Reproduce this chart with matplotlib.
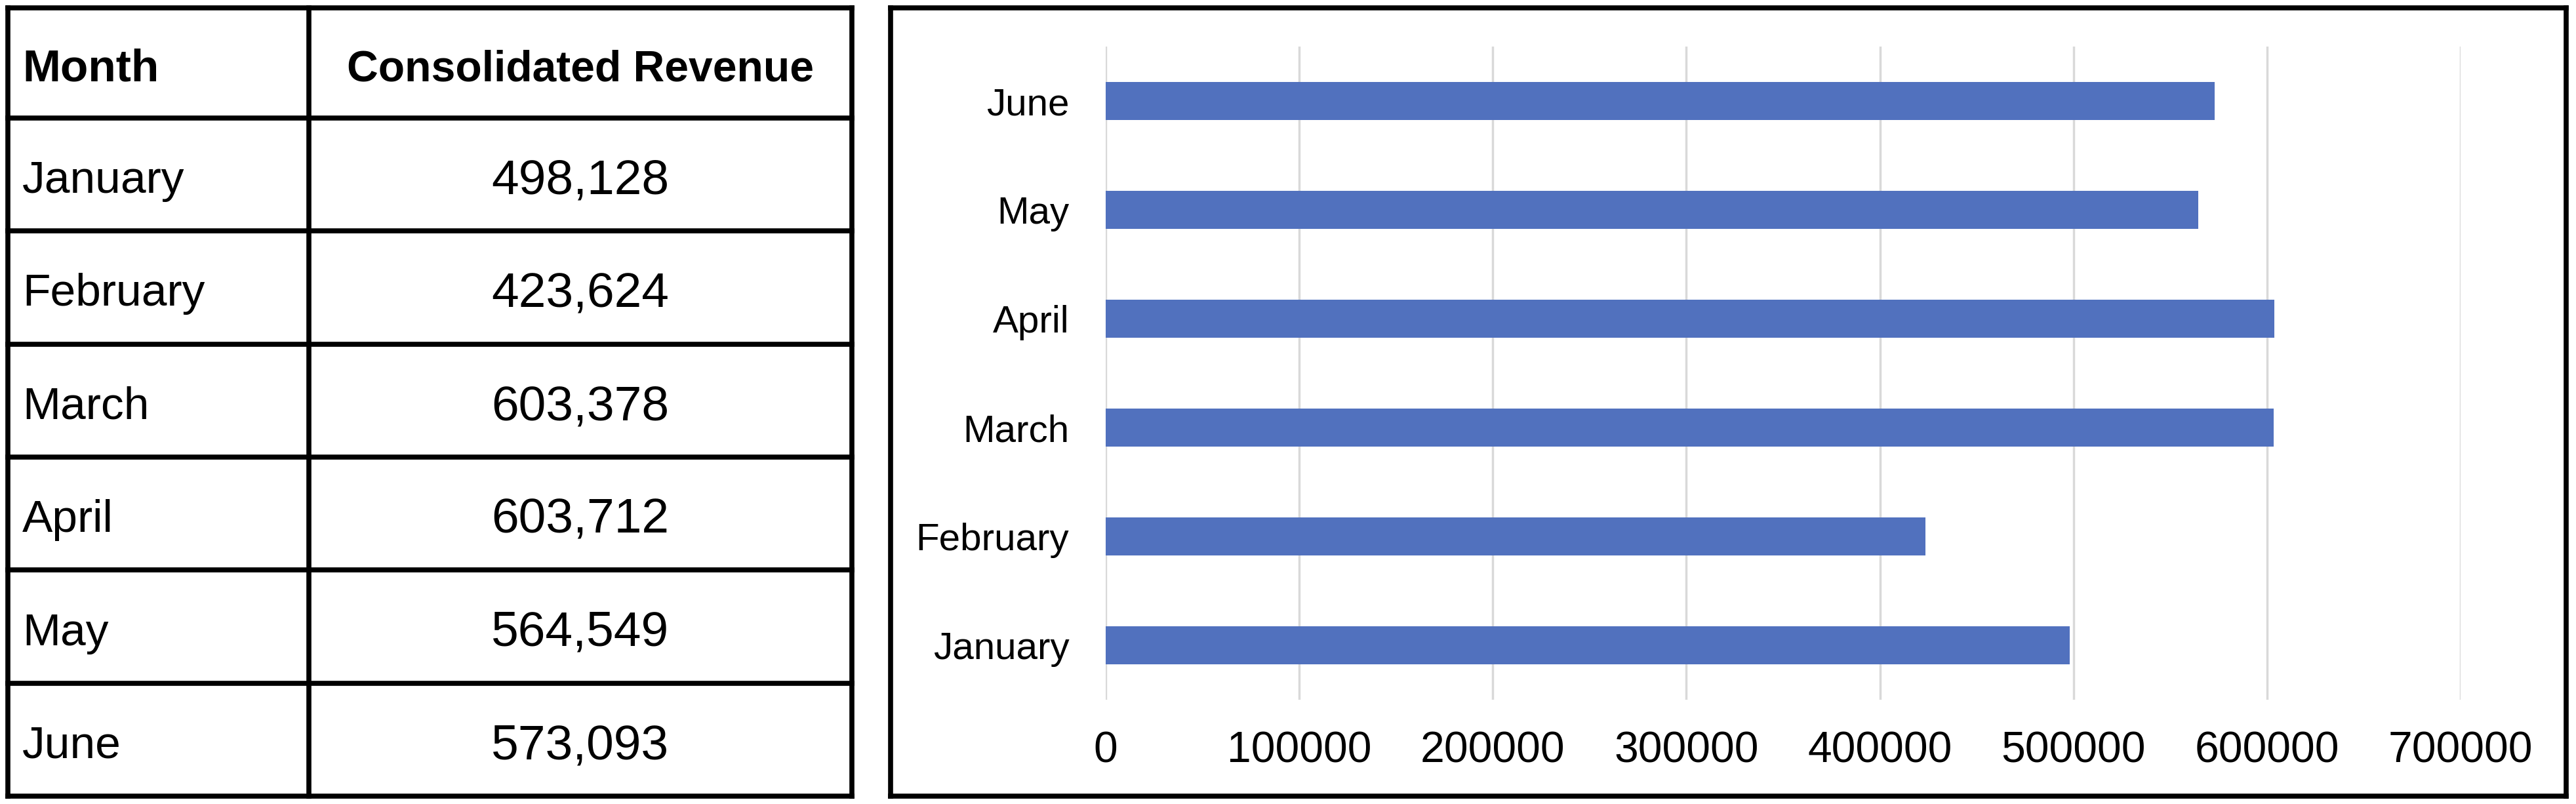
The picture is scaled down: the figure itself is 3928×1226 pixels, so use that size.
import matplotlib
matplotlib.use("Agg")
import matplotlib.pyplot as plt
from matplotlib.lines import Line2D

months = ["January", "February", "March", "April", "May", "June"]
revenue = [498128, 423624, 603378, 603712, 564549, 573093]
header = ["Month", "Consolidated Revenue"]
xticks = [0, 100000, 200000, 300000, 400000, 500000, 600000, 700000]

W, H = 3928, 1226
plt.rcParams['font.family'] = ['Liberation Sans', 'DejaVu Sans']
fig = plt.figure(figsize=(W / 100, H / 100), dpi=100)
fig.patch.set_facecolor("white")

# ---------- table (pixel coordinate overlay) ----------
tab = fig.add_axes([0, 0, 1, 1])
tab.set_xlim(0, W)
tab.set_ylim(H, 0)
tab.axis("off")

t_left, t_right, t_top, t_bot = 12, 1299, 12, 1214
col_div = 471
head_bot = 180
row_h = (t_bot - head_bot) / len(months)
lw = 5.5

def hline(y, x0, x1):
    tab.add_line(Line2D([x0, x1], [y, y], color="black", lw=lw, solid_capstyle="projecting"))

def vline(x, y0, y1):
    tab.add_line(Line2D([x, x], [y0, y1], color="black", lw=lw, solid_capstyle="projecting"))

hline(t_top, t_left, t_right)
hline(t_bot, t_left, t_right)
hline(head_bot, t_left, t_right)
for i in range(1, len(months)):
    hline(head_bot + i * row_h, t_left, t_right)
vline(t_left, t_top, t_bot)
vline(t_right, t_top, t_bot)
vline(col_div, t_top, t_bot)

tab.text(t_left + 22, (t_top + head_bot) / 2 + 10, header[0], fontsize=50, fontweight="bold",
         ha="left", va="center")
tab.text((col_div + t_right) / 2, (t_top + head_bot) / 2 + 10, header[1], fontsize=47.5,
         fontweight="bold", ha="center", va="center")
for i, (m, v) in enumerate(zip(months, revenue)):
    yc = head_bot + (i + 0.5) * row_h + 10
    tab.text(t_left + 22, yc, m, fontsize=50, ha="left", va="center")
    tab.text((col_div + t_right) / 2, yc, f"{v:,}", fontsize=54, ha="center", va="center")

# chart border
c_left, c_right = 1358, 3913
hline(t_top, c_left, c_right)
hline(t_bot, c_left, c_right)
vline(c_left, t_top, t_bot)
vline(c_right, t_top, t_bot)

# ---------- bar chart ----------
ax_l, ax_r, ax_t, ax_b = 1686, 3752, 71, 1067
ax = fig.add_axes([ax_l / W, 1 - ax_b / H, (ax_r - ax_l) / W, (ax_b - ax_t) / H])
ax.set_facecolor("none")
ypos = list(range(len(months)))
ax.barh(ypos, revenue, height=0.355, color="#5171BE", zorder=3)
ax.set_xlim(0, 700000)
ax.set_ylim(-0.5, len(months) - 0.5)
ax.set_xticks(xticks)
ax.set_xticklabels([str(t) for t in xticks], fontsize=47.5)
ax.set_yticks(ypos)
ax.set_yticklabels(months, fontsize=42)
ax.grid(axis="x", color="#D9D9D9", lw=2.5, zorder=0)
ax.tick_params(axis="both", length=0)
ax.tick_params(axis="x", pad=34)
ax.tick_params(axis="y", pad=40)
for s in ax.spines.values():
    s.set_visible(False)

fig.savefig("out.png", dpi=100, facecolor="white")
